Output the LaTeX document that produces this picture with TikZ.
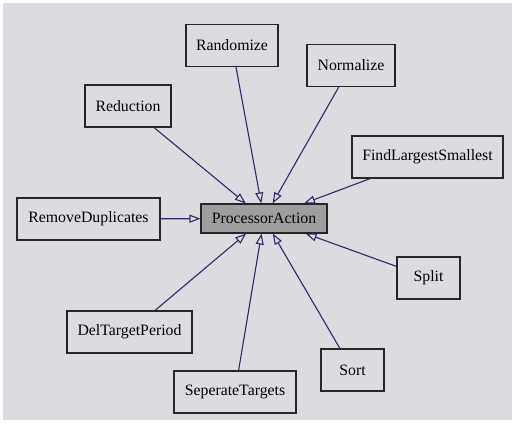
\documentclass[tikz,border=0pt]{standalone}
\usepackage{fontspec}
\setmainfont{Liberation Serif}
\usetikzlibrary{
    arrows.meta
}
\definecolor{paper}{HTML}{DCDBE0}
\definecolor{edgeblue}{HTML}{2B2B66}
\definecolor{basefill}{HTML}{9E9E9E}
\tikzset{
    >={Triangle[open, length=11pt, width=8pt, line width=1.1pt]},
    action/.style={
        draw=black!85,
        line width=1.1pt,
        fill=paper,
        inner sep=0pt,
        minimum height=42pt,
        font=\fontsize{15.8}{18}\selectfont
    },
    baseaction/.style={
        action,
        fill=basefill,
        minimum height=29pt
    },
    inherits/.style={
        ->,
        draw=edgeblue,
        line width=1.1pt
    }
}

\begin{document}
\begin{tikzpicture}[x=1pt, y=-1pt]

    % Hintergrund
    \useasboundingbox (0,0) rectangle (514,426);
    \fill[white] (0,0) rectangle (514,426);
    \fill[paper] (3,3) rectangle (512,420);

    % Klassen
    \node[baseaction, minimum width=126pt] (pa) at (264,218.5) {ProcessorAction};
    \node[action, minimum width=92pt]  (rand) at (232,45.5)  {Randomize};
    \node[action, minimum width=88pt]  (norm) at (351,65.5)  {Normalize};
    \node[action, minimum width=86pt]  (red)  at (128,106)   {Reduction};
    \node[action, minimum width=151pt] (fls)  at (427.5,157) {FindLargestSmallest};
    \node[action, minimum width=143pt] (rmd)  at (88.5,219)  {RemoveDuplicates};
    \node[action, minimum width=63pt]  (spl)  at (428.5,278) {Split};
    \node[action, minimum width=125pt] (dtp)  at (129.5,332) {DelTargetPeriod};
    \node[action, minimum width=63pt]  (srt)  at (352.5,370) {Sort};
    \node[action, minimum width=122pt] (sep)  at (235,392)   {SeperateTargets};

    % Vererbung
    \foreach \sub in {rand, norm, red, fls, rmd, spl, dtp, srt, sep}
        \draw[inherits] (\sub) -- (pa);

\end{tikzpicture}
\end{document}
